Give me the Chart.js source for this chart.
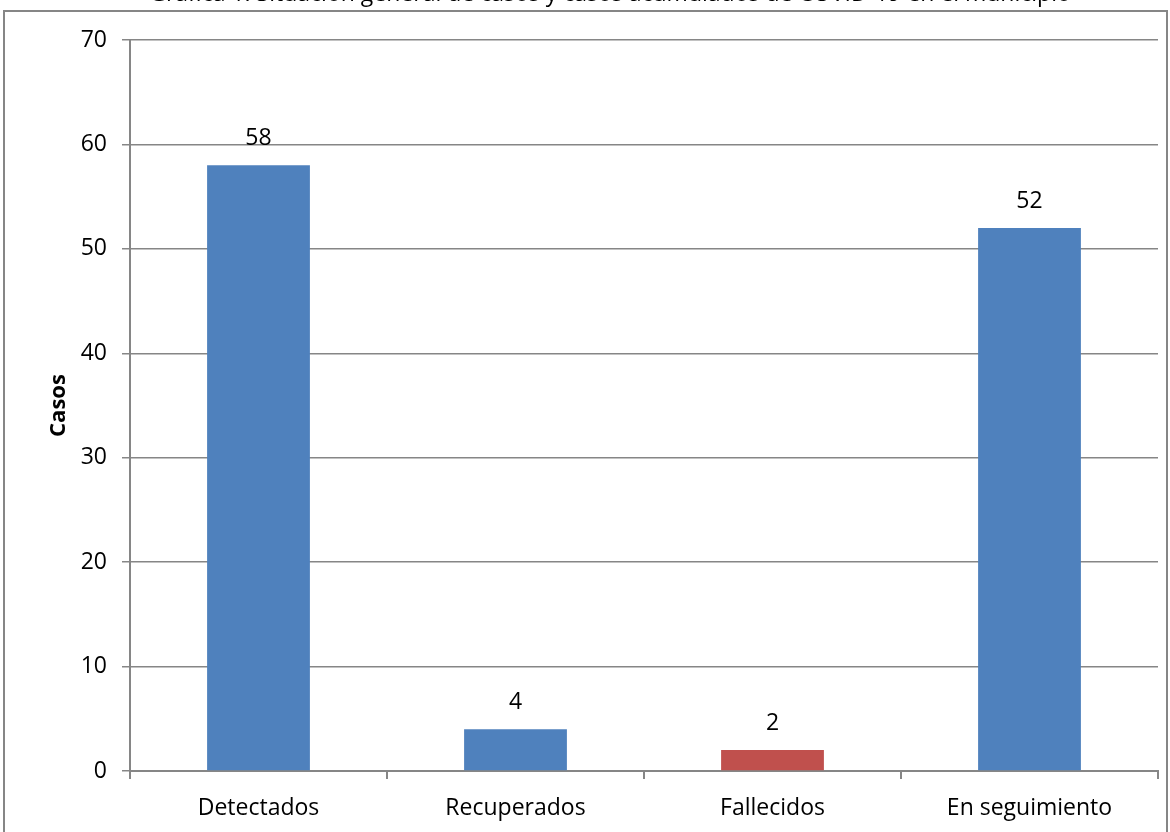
<!DOCTYPE html>
<html>
<head>
<meta charset="utf-8">
<script src="https://cdn.jsdelivr.net/npm/chart.js@4/dist/chart.umd.min.js"></script>
<style>
    html, body { margin: 0; padding: 0; background: #ffffff; }
    #wrap { width: 1170px; height: 832px; position: relative; }
</style>
</head>
<body>
<div id="wrap"><canvas id="chart" width="1170" height="832"></canvas></div>
<script>
// Data
const categories = ['Detectados', 'Recuperados', 'Fallecidos', 'En seguimiento'];
const casos = [58, 4, 2, 52];
const barColors = ['#4F81BD', '#4F81BD', '#C0504D', '#4F81BD'];
const chartTitle = 'Gráfica 1. Situación general de casos y casos acumulados de COVID-19 en el municipio';

const FONT = '"Open Sans", sans-serif';

// Outer frame + clipped title
const framePlugin = {
    id: 'frame',
    beforeDraw(chart) {
        const ctx = chart.ctx;
        ctx.save();
        ctx.fillStyle = '#000000';
        ctx.font = '23px ' + FONT;
        ctx.textAlign = 'center';
        ctx.textBaseline = 'alphabetic';
        ctx.fillText(chartTitle, 610, 1);
        ctx.strokeStyle = '#868686';
        ctx.lineWidth = 2;
        ctx.strokeRect(4, 11, 1163, 830);
        ctx.restore();
    }
};

// Value labels above bars
const valueLabels = {
    id: 'valueLabels',
    afterDatasetsDraw(chart) {
        const ctx = chart.ctx;
        const meta = chart.getDatasetMeta(0);
        ctx.save();
        ctx.fillStyle = '#000000';
        ctx.font = '23px ' + FONT;
        ctx.textAlign = 'center';
        ctx.textBaseline = 'middle';
        meta.data.forEach((bar, i) => {
            ctx.fillText(String(casos[i]), bar.x, bar.y - 27);
        });
        ctx.restore();
    }
};

new Chart(document.getElementById('chart'), {
    type: 'bar',
    data: {
        labels: categories,
        datasets: [{
            label: 'Casos',
            data: casos,
            backgroundColor: barColors,
            borderWidth: 0,
            categoryPercentage: 1,
            barPercentage: 0.4
        }]
    },
    options: {
        responsive: false,
        animation: false,
        layout: { padding: { left: 0, right: 12, top: 40, bottom: 0 } },
        plugins: {
            legend: { display: false },
            tooltip: { enabled: false }
        },
        scales: {
            x: {
                grid: {
                    offset: true,
                    drawOnChartArea: false,
                    drawTicks: true,
                    tickLength: 8,
                    color: '#868686',
                    lineWidth: 2
                },
                border: { display: true, color: '#868686', width: 2 },
                ticks: {
                    color: '#000000',
                    font: { family: FONT, size: 23 },
                    padding: 16
                },
                afterFit(scale) { scale.height = 61; }
            },
            y: {
                min: 0,
                max: 70,
                ticks: {
                    stepSize: 10,
                    color: '#000000',
                    font: { family: FONT, size: 23 },
                    padding: 15
                },
                grid: {
                    color: '#868686',
                    lineWidth: 1.5,
                    tickLength: 8,
                    drawTicks: true
                },
                border: { display: true, color: '#868686', width: 2 },
                title: {
                    display: true,
                    text: 'Casos',
                    color: '#000000',
                    font: { family: FONT, size: 22, weight: 'bold' },
                    padding: { top: 46, bottom: 0 }
                },
                afterFit(scale) { scale.width = 130; }
            }
        }
    },
    plugins: [framePlugin, valueLabels]
});
</script>
</body>
</html>
